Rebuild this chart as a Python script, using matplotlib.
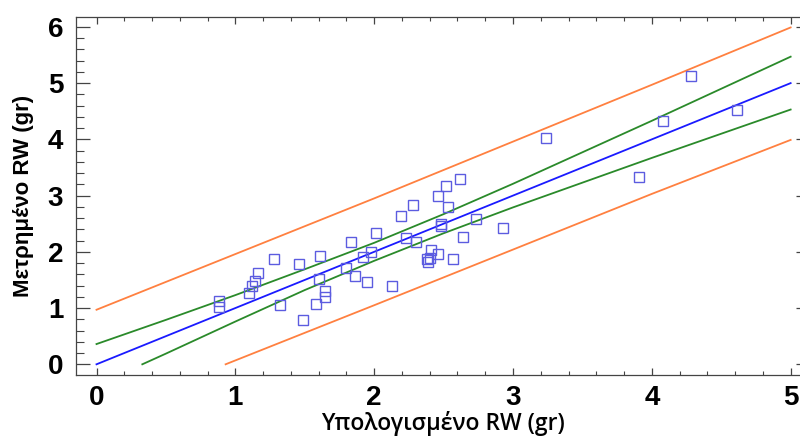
import numpy as np
import matplotlib.pyplot as plt
from matplotlib.ticker import MultipleLocator

# measured data (calculated RW vs measured RW) [gr]
rw_calc = [0.88, 0.88, 1.10, 1.12, 1.145, 1.16, 1.28, 1.32, 1.46, 1.49,
           1.61, 1.60, 1.58, 1.645, 1.645, 1.80, 1.83, 1.86, 1.92, 1.98,
           1.95, 2.01, 2.13, 2.19, 2.28, 2.23, 2.30, 2.46, 2.52, 2.615,
           2.53, 2.48, 2.48, 2.73, 2.64, 2.41, 2.46, 2.38, 2.40, 2.39,
           2.57, 2.93, 3.235, 4.28, 4.08, 4.615, 3.91]
rw_meas = [1.13, 1.01, 1.27, 1.40, 1.49, 1.63, 1.87, 1.06, 1.78, 0.78,
           1.92, 1.52, 1.08, 1.31, 1.19, 1.71, 2.17, 1.57, 1.91, 2.00,
           1.46, 2.33, 1.40, 2.64, 2.83, 2.24, 2.18, 2.99, 3.17, 3.30,
           2.80, 2.49, 2.46, 2.59, 2.27, 2.03, 1.97, 1.88, 1.89, 1.82,
           1.88, 2.42, 4.02, 5.12, 4.32, 4.52, 3.33]

# fitted line
x_fit = [0, 5]
y_fit = [0, 5]

# confidence limits
x_conf_up = [0, 0.5, 1, 1.5, 2, 2.5, 3, 3.5, 4, 4.5, 5]
y_conf_up = [0.36, 0.79, 1.23, 1.69, 2.16, 2.67, 3.21, 3.77, 4.33, 4.90, 5.47]
x_conf_lo = [0.33, 0.5, 1, 1.5, 2, 2.5, 3, 3.5, 4, 4.5, 5]
y_conf_lo = [0.0, 0.19, 0.76, 1.32, 1.84, 2.33, 2.79, 3.23, 3.67, 4.10, 4.53]

# prediction limits
x_pred_up = [0, 1, 2, 3, 4, 5]
y_pred_up = [0.97, 1.96, 2.95, 3.96, 4.97, 5.99]
x_pred_lo = [0.93, 2, 3, 4, 5]
y_pred_lo = [0.0, 1.05, 2.04, 3.03, 3.99]

fig = plt.figure(figsize=(8, 4.41), dpi=100)
ax = fig.add_axes([0.0946, 0.1497, 0.918, 0.8123])

ax.plot(x_pred_up, y_pred_up, color='#ff8040', lw=1.3)
ax.plot(x_pred_lo, y_pred_lo, color='#ff8040', lw=1.3)
ax.plot(x_conf_up, y_conf_up, color='#2a8a2a', lw=1.3)
ax.plot(x_conf_lo, y_conf_lo, color='#2a8a2a', lw=1.3)
ax.plot(x_fit, y_fit, color='#1a1aff', lw=1.3)
ax.plot(rw_calc, rw_meas, 's', mfc='none', mec='#5c5ce0', mew=1.0, ms=6.5)

ax.set_xlim(-0.15, 5.14)
ax.set_ylim(-0.19, 6.18)

ax.xaxis.set_major_locator(MultipleLocator(1))
ax.xaxis.set_minor_locator(MultipleLocator(0.2))
ax.yaxis.set_major_locator(MultipleLocator(1))
ax.yaxis.set_minor_locator(MultipleLocator(0.2))
ax.tick_params(axis='x', which='major', direction='in', length=5, width=0.9,
               top=True, color='#444444', pad=7)
ax.tick_params(axis='x', which='minor', direction='in', length=3, width=0.8,
               top=True, color='#444444')
ax.tick_params(axis='y', which='major', direction='in', length=10, width=0.9,
               right=True, color='#444444', pad=9)
ax.tick_params(axis='y', which='minor', direction='in', length=5.5, width=0.8,
               right=True, color='#444444')
for lab in ax.get_xticklabels() + ax.get_yticklabels():
    lab.set_fontfamily('Liberation Sans')
    lab.set_fontweight('bold')
    lab.set_fontsize(20)
for sp in ax.spines.values():
    sp.set_color('#444444')
    sp.set_linewidth(0.9)

ax.set_xlabel('Υπολογισμένο RW (gr)', fontfamily='Open Sans', fontsize=16.5,
              fontweight='semibold', labelpad=0)
ax.set_ylabel('Μετρημένο RW (gr)', fontfamily='Liberation Sans', fontsize=16,
              fontweight='bold', labelpad=10)

fig.savefig('out.png', dpi=100)
